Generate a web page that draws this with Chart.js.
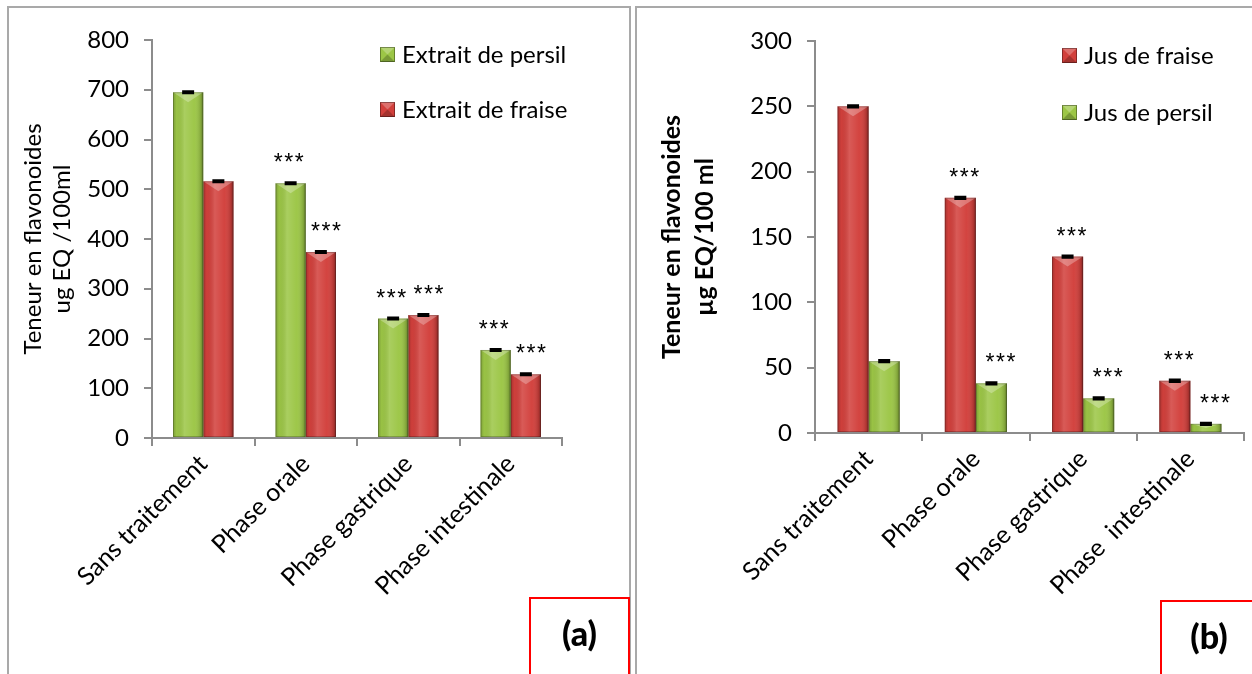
<!DOCTYPE html>
<html>
<head>
<meta charset="utf-8">
<script src="https://cdn.jsdelivr.net/npm/chart.js@4.4.1/dist/chart.umd.min.js"></script>
<style>
  html, body { margin: 0; padding: 0; background: #fff; }
  body { width: 1252px; height: 674px; position: relative; overflow: hidden; font-family: Lato, sans-serif; }
  .frame { position: absolute; border: 2px solid #a9a9a9; box-sizing: border-box; }
  #frameA { left: 7px; top: 6px; width: 624px; height: 720px; }
  #frameB { left: 635px; top: 6px; width: 660px; height: 720px; }
  .tag { position: absolute; border: 2px solid #ff0000; box-sizing: border-box; font-family: Lato, sans-serif;
         font-weight: 900; font-size: 34px; line-height: 34px; text-align: center; padding-top: 17px; color: #000; }
  #tagA { left: 529px; top: 597px; width: 101px; height: 120px; }
  #tagB { left: 1160px; top: 600px; width: 98px; height: 120px; }
  canvas { position: absolute; top: 0; }
  #chartA { left: 0; }
  #chartB { left: 632px; }
</style>
</head>
<body>
<div class="frame" id="frameA"></div>
<div class="frame" id="frameB"></div>
<canvas id="chartA" width="630" height="674"></canvas>
<canvas id="chartB" width="620" height="674"></canvas>
<div class="tag" id="tagA">(a)</div>
<div class="tag" id="tagB">(b)</div>
<script>
// ---- data -------------------------------------------------------------
const phases = ['Sans traitement', 'Phase orale', 'Phase gastrique', 'Phase intestinale'];
const phasesJus = ['Sans traitement', 'Phase orale', 'Phase gastrique', 'Phase  intestinale'];

// (a) extracts, µg EQ / 100 ml
const extraitPersil = [695, 512, 240, 177];
const extraitFraise = [516, 374, 247, 128];
const extraitPersilErr = [1.5, 1.5, 1.5, 1.5];
const extraitFraiseErr = [1.5, 1.5, 1.5, 1.5];
const extraitPersilSig = ['', '***', '***', '***'];
const extraitFraiseSig = ['', '***', '***', '***'];
const yTicksA = [0, 100, 200, 300, 400, 500, 600, 700, 800];

// (b) juices, µg EQ / 100 ml
const jusFraise = [250, 180, 135, 40];
const jusPersil = [55, 38, 26.5, 7];
const jusFraiseErr = [0.7, 0.7, 0.7, 0.7];
const jusPersilErr = [0.7, 0.7, 0.7, 0.7];
const jusFraiseSig = ['', '***', '***', '***'];
const jusPersilSig = ['', '***', '***', '***'];
const yTicksB = [0, 50, 100, 150, 200, 250, 300];

// ---- look -------------------------------------------------------------
const GREEN = '#9cc646';
const RED = '#d2403c';
const AXIS = '#8c8c8c';
const FONT = 'Lato';
const STAR_FONT = '23px "Liberation Sans", Arial, sans-serif';

Chart.defaults.font.family = FONT;
Chart.defaults.color = '#000';
Chart.defaults.animation = false;

// cylinder-like shading and bevelled top over each bar
const barLook = {
  id: 'barLook',
  afterDatasetDraw(chart, args) {
    const ctx = chart.ctx;
    args.meta.data.forEach(el => {
      const w = el.width, l = el.x - w / 2, r = el.x + w / 2, t = el.y, b = el.base;
      ctx.save();
      const g = ctx.createLinearGradient(l, 0, r, 0);
      g.addColorStop(0, 'rgba(0,0,0,0.20)');
      g.addColorStop(0.12, 'rgba(0,0,0,0.02)');
      g.addColorStop(0.38, 'rgba(255,255,255,0.14)');
      g.addColorStop(0.7, 'rgba(255,255,255,0.02)');
      g.addColorStop(0.92, 'rgba(0,0,0,0.16)');
      g.addColorStop(1, 'rgba(0,0,0,0.40)');
      ctx.fillStyle = g;
      ctx.fillRect(l, t, w, b - t);
      const bev = Math.min(10, (b - t) / 2);
      ctx.beginPath();
      ctx.moveTo(l, t); ctx.lineTo(r, t); ctx.lineTo(el.x, t + bev); ctx.closePath();
      ctx.fillStyle = 'rgba(255,255,255,0.28)';
      ctx.fill();
      ctx.strokeStyle = 'rgba(0,0,0,0.22)';
      ctx.lineWidth = 1;
      ctx.strokeRect(l + 0.5, t + 0.5, w - 1, b - t - 1);
      ctx.restore();
    });
  }
};

// standard-error whiskers and significance stars
const barMarks = {
  id: 'barMarks',
  afterDatasetsDraw(chart) {
    const ctx = chart.ctx;
    const yScale = chart.scales.y;
    chart.data.datasets.forEach((ds, di) => {
      const meta = chart.getDatasetMeta(di);
      meta.data.forEach((el, i) => {
        const v = ds.data[i];
        const e = ds.errors ? ds.errors[i] : 0;
        const yHi = yScale.getPixelForValue(v + e);
        const yLo = yScale.getPixelForValue(v - e);
        ctx.save();
        ctx.strokeStyle = '#000';
        ctx.lineWidth = 2.5;
        ctx.beginPath();
        ctx.moveTo(el.x, yHi); ctx.lineTo(el.x, yLo);
        ctx.moveTo(el.x - 6, yHi); ctx.lineTo(el.x + 6, yHi);
        ctx.moveTo(el.x - 6, yLo); ctx.lineTo(el.x + 6, yLo);
        ctx.stroke();
        const s = ds.sig ? ds.sig[i] : '';
        if (s) {
          ctx.fillStyle = '#000';
          ctx.font = STAR_FONT;
          ctx.textAlign = 'center';
          ctx.textBaseline = 'alphabetic';
          const chars = s.split('');
          const step = 10.5;
          const x0 = el.x + (ds.sigDx || 0) - step * (chars.length - 1) / 2;
          chars.forEach((c, k) => ctx.fillText(c, x0 + k * step, el.y - 13));
        }
        ctx.restore();
      });
    });
  }
};

// legend drawn inside the plot area
const boxLegend = {
  id: 'boxLegend',
  afterDraw(chart, args, opts) {
    const ctx = chart.ctx;
    chart.data.datasets.forEach((ds, i) => {
      const x = opts.x, y = opts.y + i * opts.gap, s = opts.box;
      ctx.save();
      ctx.fillStyle = ds.backgroundColor;
      ctx.fillRect(x, y, s, s);
      ctx.beginPath();
      ctx.moveTo(x, y); ctx.lineTo(x + s, y); ctx.lineTo(x + s / 2, y + s / 2); ctx.closePath();
      ctx.fillStyle = 'rgba(255,255,255,0.25)';
      ctx.fill();
      ctx.beginPath();
      ctx.moveTo(x, y + s); ctx.lineTo(x + s, y + s); ctx.lineTo(x + s / 2, y + s / 2); ctx.closePath();
      ctx.fillStyle = 'rgba(0,0,0,0.22)';
      ctx.fill();
      ctx.strokeStyle = 'rgba(0,0,0,0.35)';
      ctx.lineWidth = 1;
      ctx.strokeRect(x + 0.5, y + 0.5, s - 1, s - 1);
      ctx.fillStyle = '#000';
      ctx.font = opts.size + 'px ' + FONT;
      ctx.textAlign = 'left';
      ctx.textBaseline = 'middle';
      ctx.fillText(ds.label, x + s + 7, y + s / 2 + 1);
      ctx.restore();
    });
  }
};

function makeChart(id, cfg) {
  const ticks = cfg.yTicks;
  return new Chart(document.getElementById(id), {
    type: 'bar',
    data: { labels: cfg.labels, datasets: cfg.datasets },
    plugins: [barLook, barMarks, boxLegend],
    options: {
      responsive: false,
      layout: { padding: cfg.padding },
      datasets: { bar: { categoryPercentage: cfg.catPct, barPercentage: 1.0, borderWidth: 0 } },
      plugins: {
        legend: { display: false },
        tooltip: { enabled: false },
        boxLegend: cfg.legend
      },
      scales: {
        x: {
          grid: { display: true, drawOnChartArea: false, drawTicks: true, tickLength: 8, color: AXIS, lineWidth: 2, offset: true },
          border: { color: AXIS, width: 2 },
          ticks: { font: { size: 25 }, color: '#000', maxRotation: 45, minRotation: 45, autoSkip: false, padding: 3 },
          afterFit(scale) { scale.height = cfg.xHeight; }
        },
        y: {
          min: ticks[0],
          max: ticks[ticks.length - 1],
          ticks: { stepSize: ticks[1] - ticks[0], font: { size: 24 }, color: '#000', padding: 15 },
          grid: { display: true, drawOnChartArea: false, drawTicks: true, tickLength: 8, color: AXIS, lineWidth: 2 },
          border: { color: AXIS, width: 2 },
          title: cfg.yTitle,
          afterFit(scale) { scale.width = cfg.yWidth; }
        }
      }
    }
  });
}

makeChart('chartA', {
  labels: phases,
  yTicks: yTicksA,
  catPct: 0.59,
  padding: { left: 0, top: 40, right: 68, bottom: 0 },
  yWidth: 152,
  xHeight: 236,
  yTitle: { display: true, text: ['Teneur en flavonoides', 'ug EQ /100ml'], font: { size: 24, lineHeight: 1.2 }, color: '#000', padding: { top: 19, bottom: 0 } },
  legend: { x: 380, y: 47, gap: 55, box: 15, size: 24 },
  datasets: [
    { label: 'Extrait de persil', data: extraitPersil, errors: extraitPersilErr, sig: extraitPersilSig, sigDx: -2, backgroundColor: GREEN },
    { label: 'Extrait de fraise', data: extraitFraise, errors: extraitFraiseErr, sig: extraitFraiseSig, sigDx: 5, backgroundColor: RED }
  ]
});

makeChart('chartB', {
  labels: phasesJus,
  yTicks: yTicksB,
  catPct: 0.58,
  padding: { left: 0, top: 41, right: 8, bottom: 0 },
  yWidth: 183,
  xHeight: 241,
  yTitle: { display: true, text: ['Teneur en flavonoides', 'µg EQ/100 ml'], font: { size: 25, weight: 'bold', lineHeight: 1.3 }, color: '#000', padding: { top: 24, bottom: 0 } },
  legend: { x: 430, y: 48, gap: 57, box: 15, size: 24 },
  datasets: [
    { label: 'Jus de fraise', data: jusFraise, errors: jusFraiseErr, sig: jusFraiseSig, sigDx: 4, backgroundColor: RED },
    { label: 'Jus de persil', data: jusPersil, errors: jusPersilErr, sig: jusPersilSig, sigDx: 9, backgroundColor: GREEN }
  ]
});
</script>
</body>
</html>
